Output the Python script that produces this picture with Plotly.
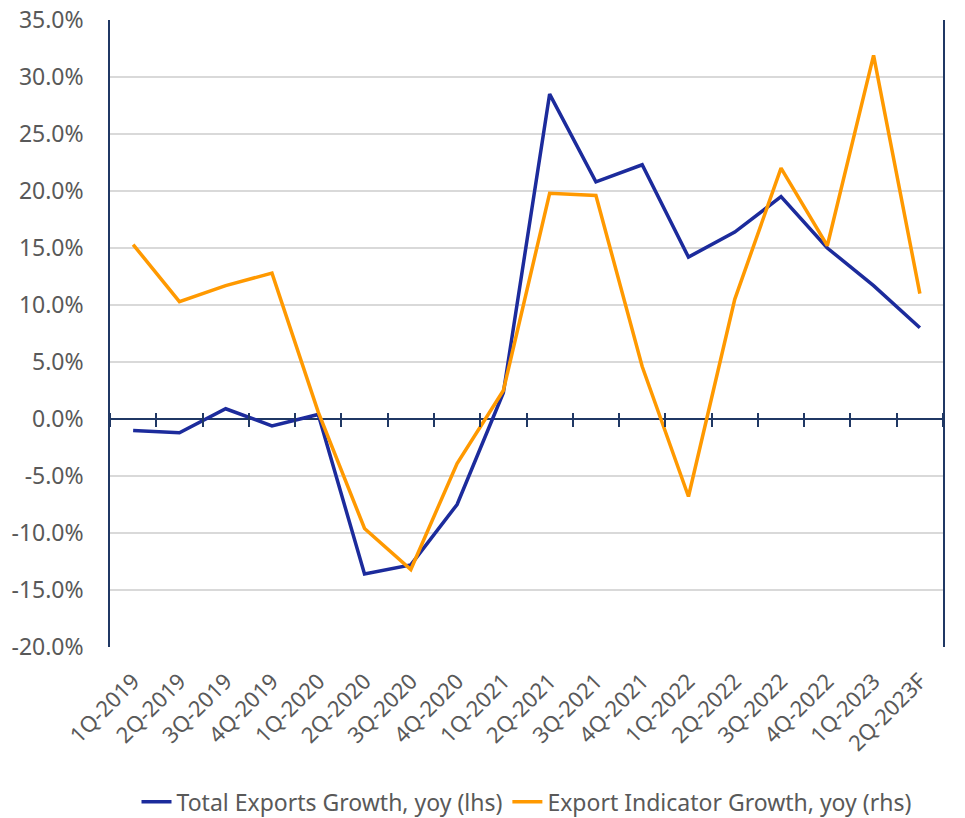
import plotly.graph_objects as go

quarters = [
    "1Q-2019", "2Q-2019", "3Q-2019", "4Q-2019",
    "1Q-2020", "2Q-2020", "3Q-2020", "4Q-2020",
    "1Q-2021", "2Q-2021", "3Q-2021", "4Q-2021",
    "1Q-2022", "2Q-2022", "3Q-2022", "4Q-2022",
    "1Q-2023", "2Q-2023F",
]
total_exports = [
    -1.0, -1.2, 0.9, -0.6,
    0.4, -13.6, -12.8, -7.5,
    2.3, 28.5, 20.8, 22.3,
    14.2, 16.4, 19.5, 15.0,
    11.7, 8.0,
]
export_indicator = [
    15.3, 10.3, 11.7, 12.8,
    0.6, -9.6, -13.2, -3.9,
    2.5, 19.8, 19.6, 4.6,
    -6.8, 10.5, 22.0, 15.2,
    31.9, 11.0,
]
y_ticks = [-20, -15, -10, -5, 0, 5, 10, 15, 20, 25, 30, 35]
y_ticktext = ["-20.0%", "-15.0%", "-10.0%", "-5.0%", "0.0%", "5.0%",
              "10.0%", "15.0%", "20.0%", "25.0%", "30.0%", "35.0%"]

NAVY = "#203864"
GRID = "#d9d9d9"
TXT = "#595959"
FONT = "Noto Sans"

W, H = 965, 818
M = dict(l=110, r=22, t=20, b=171)

y_min, y_max = -20, 35
plot_h = H - M["t"] - M["b"]
x_range = [-0.5, len(quarters) - 0.5]
# tick marks cross the zero line: axis sits a few px above zero, ticks go down
tick_half = 7
zero_pos = (0 - y_min) / (y_max - y_min) + tick_half / plot_h

fig = go.Figure()
fig.add_trace(go.Scatter(
    x=quarters, y=total_exports, mode="lines",
    name="Total Exports Growth, yoy (lhs)",
    line=dict(color="#1c2b9c", width=3.5),
))
fig.add_trace(go.Scatter(
    x=quarters, y=export_indicator, mode="lines",
    name="Export Indicator Growth, yoy (rhs)",
    line=dict(color="#ff9900", width=3.5),
    xaxis="x2", yaxis="y2",
))

fig.update_layout(
    width=W, height=H,
    margin=dict(**M, autoexpand=False),
    paper_bgcolor="white", plot_bgcolor="white",
    font=dict(family=FONT, size=22, color=TXT),
    showlegend=True,
    legend=dict(
        orientation="h", x=0.5, xanchor="center",
        y=-0.247, yanchor="middle",
        font=dict(size=23, color=TXT),
    ),
    xaxis=dict(
        type="category", categoryorder="array", categoryarray=quarters,
        range=x_range, automargin=False,
        showgrid=False, zeroline=False, showline=False,
        ticks="", tickangle=-45, ticklabelstandoff=16,
        tickfont=dict(size=22, color=TXT),
    ),
    xaxis2=dict(
        type="category", categoryorder="array", categoryarray=quarters,
        range=x_range, automargin=False,
        overlaying="x", anchor="free", position=zero_pos,
        showgrid=False, zeroline=False, showline=False,
        ticks="outside", tickson="boundaries", ticklen=2 * tick_half,
        tickwidth=1.5, tickcolor=NAVY, showticklabels=False,
    ),
    yaxis=dict(
        range=[y_min, y_max], tickvals=y_ticks, ticktext=y_ticktext,
        showgrid=True, gridcolor=GRID, gridwidth=1.5, automargin=False,
        zeroline=True, zerolinecolor=NAVY, zerolinewidth=1.5,
        showline=True, linecolor=NAVY, linewidth=1.5,
        ticks="", ticklabelstandoff=20, ticklabeloverflow="allow",
        tickfont=dict(size=23, color=TXT),
    ),
    yaxis2=dict(
        overlaying="y", side="right", range=[y_min, y_max], automargin=False,
        showgrid=False, zeroline=False, showline=True,
        linecolor=NAVY, linewidth=1.5, showticklabels=False, ticks="",
    ),
)

# drop the default 8px body margin so the 965x818 figure fills the window
fig.write_html(
    "out.html",
    config={"displayModeBar": False},
    post_script="document.body.style.margin = '0';",
)
